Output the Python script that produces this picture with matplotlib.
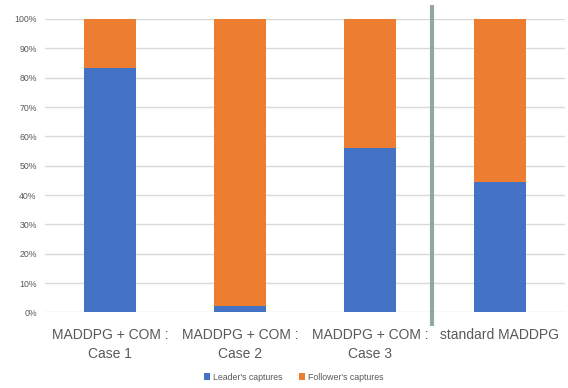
import matplotlib
matplotlib.use("Agg")
import matplotlib.pyplot as plt
import numpy as np

categories = ["MADDPG + COM :\nCase 1", "MADDPG + COM :\nCase 2",
              "MADDPG + COM :\nCase 3", "standard MADDPG"]
leader = [83.2, 2.2, 56.2, 44.3]
follower = [100 - v for v in leader]
series_names = ["Leader's captures", "Follower's captures"]
yticks = [0, 10, 20, 30, 40, 50, 60, 70, 80, 90, 100]

blue = "#4472c4"
orange = "#ed7d31"
text_gray = "#595959"

plt.rcParams["font.family"] = ["Liberation Sans", "DejaVu Sans"]

W, H = 568, 388
fig = plt.figure(figsize=(W / 100, H / 100), dpi=100)
left, right = 45 / W, 565 / W
top, bottom = 19 / H, 312.4 / H
ax = fig.add_axes([left, 1 - bottom, right - left, bottom - top])

x = np.arange(len(categories))
ax.bar(x, leader, width=0.4, color=blue, label=series_names[0], zorder=3)
ax.bar(x, follower, width=0.4, bottom=leader, color=orange,
       label=series_names[1], zorder=3)

ax.set_xlim(-0.5, 3.5)
ax.set_ylim(0, 100)
ax.set_yticks(yticks)
ax.set_yticklabels([f"{t}%" for t in yticks], fontsize=6.3, color=text_gray)
ax.yaxis.grid(True, color="#d9d9d9", linewidth=1.0, zorder=0)
ax.set_xticks(x)
ax.set_xticklabels(categories, fontsize=10, color=text_gray, linespacing=1.5)
ax.tick_params(axis="both", length=0)
ax.tick_params(axis="x", pad=11)
ax.tick_params(axis="y", pad=6)
for s in ax.spines.values():
    s.set_visible(False)

# Separator between the communication variants and the baseline
ax.plot([2.48, 2.48], [104.8, -4.6], color="#94a89a", linewidth=3,
        clip_on=False, zorder=4, solid_capstyle="butt")

leg = fig.legend(loc="center", bbox_to_anchor=(0.517, 1 - 377 / H), ncol=2,
                 frameon=False, fontsize=6.3, handlelength=0.7,
                 handleheight=0.7, columnspacing=1.8, handletextpad=0.4)
for t in leg.get_texts():
    t.set_color(text_gray)

fig.savefig("out.png", dpi=100)
